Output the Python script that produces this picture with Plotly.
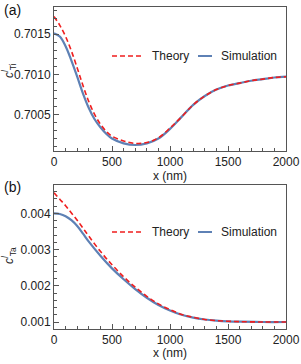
import plotly.graph_objects as go

# ---------------- data ----------------
x_top = [0, 50, 100, 150, 200, 250, 300, 350, 400, 450, 500, 600, 700, 800,
         900, 1000, 1100, 1200, 1300, 1400, 1500, 1600, 1700, 1800, 1900, 2000]
sim_top = [0.70151, 0.70147, 0.70135, 0.70117, 0.70097, 0.70076, 0.70058,
           0.70044, 0.70034, 0.70026, 0.70020, 0.70014, 0.70012, 0.70014,
           0.70020, 0.70032, 0.70047, 0.70062, 0.70073, 0.70081, 0.70086,
           0.70089, 0.70092, 0.70094, 0.70096, 0.70097]
theory_top = [0.70172, 0.70161, 0.70147, 0.70129, 0.70108, 0.70086, 0.70066,
              0.70050, 0.70038, 0.70029, 0.70023, 0.70017, 0.70014, 0.70015,
              0.70021, 0.70033, 0.70047, 0.70062, 0.70073, 0.70081, 0.70086,
              0.70089, 0.70092, 0.70094, 0.70096, 0.70097]

x_bot = [0, 50, 100, 150, 200, 250, 300, 400, 500, 600, 700, 800, 900, 1000,
         1100, 1200, 1300, 1400, 1500, 1600, 1800, 2000]
sim_bot = [0.00400, 0.00398, 0.00392, 0.00381, 0.00365, 0.00344, 0.00322,
           0.00283, 0.00248, 0.00218, 0.00191, 0.00167, 0.00147, 0.00132,
           0.00120, 0.00112, 0.00107, 0.00104, 0.00102, 0.00101, 0.00100,
           0.00100]
theory_bot = [0.00457, 0.00439, 0.00421, 0.00401, 0.00381, 0.00359, 0.00337,
              0.00295, 0.00258, 0.00225, 0.00196, 0.00171, 0.00150, 0.00134,
              0.00121, 0.00113, 0.00107, 0.00104, 0.00102, 0.00101, 0.00100,
              0.00100]

x_ticks = [0, 500, 1000, 1500, 2000]
y_ticks_top = [0.7005, 0.7010, 0.7015]
y_ticks_bot = [0.001, 0.002, 0.003, 0.004]

series_names = ["Theory", "Simulation"]
panel_labels = ["(a)", "(b)"]
y_titles = ["<i>c</i><sup><i>l</i></sup><sub>Ti</sub>",
            "<i>c</i><sup><i>l</i></sup><sub>Ta</sub>"]
x_title = "x (nm)"

# ---------------- style ----------------
BLUE = "#5E81B5"
RED = "#F01E1E"
AXC = "#555555"
FONT = "Liberation Sans, Arial, sans-serif"
W, H = 301, 364
ML, MR, MT, MB = 54, 15, 7, 35
PW = W - ML - MR
PH = H - MT - MB


def px_x(px):
    """page pixel x -> paper coordinate"""
    return (px - ML) / PW


def px_y(py):
    """page pixel y -> paper coordinate"""
    return (H - MB - py) / PH


fig = go.Figure()

for xs, sim, th, xa, ya in [(x_top, sim_top, theory_top, "x", "y"),
                             (x_bot, sim_bot, theory_bot, "x2", "y2")]:
    fig.add_trace(go.Scatter(x=xs, y=sim, mode="lines", name=series_names[1],
                             line=dict(color=BLUE, width=2.2, shape="spline",
                                       smoothing=1.0),
                             xaxis=xa, yaxis=ya, showlegend=False))
    fig.add_trace(go.Scatter(x=xs, y=th, mode="lines", name=series_names[0],
                             line=dict(color=RED, width=1.6, dash="5px,3px",
                                       shape="spline", smoothing=1.0),
                             xaxis=xa, yaxis=ya, showlegend=False))

top_dom = [px_y(151), px_y(7)]
bot_dom = [px_y(329), px_y(185)]

common_x = dict(range=[0, 2000], tickvals=x_ticks, ticks="inside", ticklen=5,
                tickcolor=AXC, showline=True, linecolor=AXC, linewidth=1,
                mirror=True, showgrid=False, zeroline=False, automargin=False,
                tickfont=dict(family=FONT, size=12, color="#222"),
                minor=dict(dtick=100, tick0=0, ticks="inside", ticklen=3,
                           tickcolor=AXC, showgrid=False))
common_y = dict(ticks="inside", ticklen=5, tickcolor=AXC, showline=True,
                linecolor=AXC, linewidth=1, mirror=True, showgrid=False,
                zeroline=False, automargin=False,
                tickfont=dict(family=FONT, size=12, color="#222"))

fig.update_layout(
    width=W, height=H,
    margin=dict(l=ML, r=MR, t=MT, b=MB, autoexpand=False),
    paper_bgcolor="white", plot_bgcolor="white",
    showlegend=False,
    font=dict(family=FONT, size=12, color="#222"),
    xaxis=dict(common_x, domain=[0, 1], anchor="y"),
    yaxis=dict(common_y, domain=top_dom, anchor="x",
               range=[0.700045, 0.701838], tickvals=y_ticks_top,
               tickformat=".4f",
               minor=dict(dtick=0.0001, tick0=0.7, ticks="inside", ticklen=3,
                          tickcolor=AXC, showgrid=False)),
    xaxis2=dict(common_x, domain=[0, 1], anchor="y2"),
    yaxis2=dict(common_y, domain=bot_dom, anchor="x2",
                range=[0.000807, 0.004782], tickvals=y_ticks_bot,
                tickformat=".3f",
                minor=dict(dtick=0.0002, tick0=0, ticks="inside", ticklen=3,
                           tickcolor=AXC, showgrid=False)),
)

annotations = []
shapes = []
for i, (lab_y, ytit_y, xt_y, leg_y) in enumerate([(10, 71, 176, 56),
                                                   (187, 256, 353, 232)]):
    annotations.append(dict(text=panel_labels[i], x=px_x(12), y=px_y(lab_y),
                            xref="paper", yref="paper", showarrow=False,
                            xanchor="center", yanchor="middle",
                            font=dict(family=FONT, size=14, color="#111")))
    annotations.append(dict(text=y_titles[i], x=px_x(9), y=px_y(ytit_y),
                            xref="paper", yref="paper", showarrow=False,
                            textangle=-90, xanchor="center", yanchor="middle",
                            font=dict(family=FONT, size=12, color="#222")))
    annotations.append(dict(text=x_title, x=0.5, y=px_y(xt_y),
                            xref="paper", yref="paper", showarrow=False,
                            xanchor="center", yanchor="middle",
                            font=dict(family=FONT, size=12, color="#222")))
    # legend
    shapes.append(dict(type="line", xref="paper", yref="paper",
                       x0=px_x(112), x1=px_x(143), y0=px_y(leg_y),
                       y1=px_y(leg_y),
                       line=dict(color=RED, width=1.6, dash="5px,3px")))
    annotations.append(dict(text=series_names[0], x=px_x(150), y=px_y(leg_y),
                            xref="paper", yref="paper", showarrow=False,
                            xanchor="left", yanchor="middle",
                            font=dict(family=FONT, size=12, color="#222")))
    shapes.append(dict(type="line", xref="paper", yref="paper",
                       x0=px_x(198), x1=px_x(212), y0=px_y(leg_y),
                       y1=px_y(leg_y),
                       line=dict(color=BLUE, width=2)))
    annotations.append(dict(text=series_names[1], x=px_x(219), y=px_y(leg_y),
                            xref="paper", yref="paper", showarrow=False,
                            xanchor="left", yanchor="middle",
                            font=dict(family=FONT, size=12, color="#222")))

fig.update_layout(annotations=annotations, shapes=shapes)

# the page body otherwise adds an 8px margin around the figure
fig.write_html("out.html",
               config={"displayModeBar": False},
               post_script="document.body.style.margin='0px';")
